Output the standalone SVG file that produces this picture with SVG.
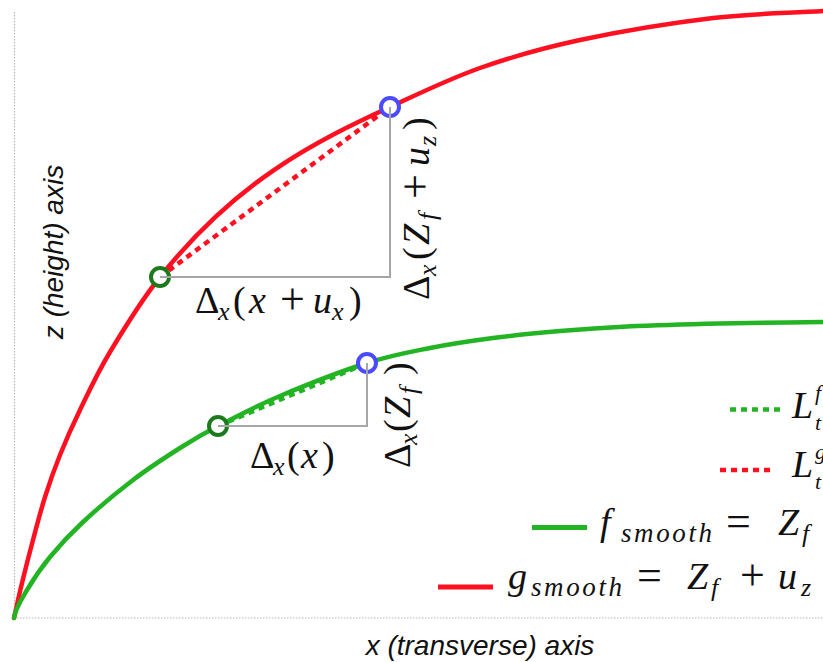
<svg xmlns="http://www.w3.org/2000/svg" width="823" height="662" viewBox="0 0 823 662">
<style>
.axis{stroke:#b8b8b8;stroke-width:1.2;stroke-dasharray:1.5 1.5;fill:none}
.curve{fill:none;stroke-width:4.5;stroke-linecap:round}
.red{stroke:#ff1020}
.green{stroke:#22b422}
.dot{fill:none;stroke-width:4.5;stroke-dasharray:6 5}
.guide{stroke:#a6a6a6;stroke-width:2;fill:none}
.ring{fill:#ffffff;stroke-width:4}
.math{font-family:"Liberation Serif","DejaVu Serif",serif;font-size:38px;fill:#111}
.it{font-style:italic}
.op{font-size:44px}
.sub{font-size:26px}
.ss{font-size:22px}
.sm{font-size:27px;letter-spacing:2.6px}
.axlab{font-family:"Liberation Sans",Arial,sans-serif;font-style:italic;font-size:28px;fill:#111}
</style>
<g id="axes">
<line class="axis" x1="14.5" y1="12" x2="14.5" y2="618"/>
<line class="axis" x1="14" y1="618" x2="823" y2="618"/>
<text class="axlab" transform="translate(63,252) rotate(-90)" text-anchor="middle">z (height) axis</text>
<text class="axlab" x="480" y="655" text-anchor="middle">x (transverse) axis</text>
</g>
<g id="connectors">
<path id="g-smooth" class="curve red" d="M14,618 C16.67,606.33 18.83,596 22,583 C25.17,570 29.17,554.33 33,540 C36.83,525.67 40.5,511.17 45,497 C49.5,482.83 54.17,469.5 60,455 C65.83,440.5 71.67,427.17 80,410 C88.33,392.83 96.67,374.17 110,352 C123.33,329.83 143.3,297.8 160,277 C236.7,181.1 313.3,142.3 390,107 C420,93.2 448.33,79.17 480,68 C511.67,56.83 541.17,48.33 580,40 C618.83,31.67 673,22.83 713,18 C753,13.17 786.33,13.33 823,11"/>
<path id="f-smooth" class="curve green" d="M14,618 C15.5,608 21,600.17 27,590 C33,579.83 40.67,568.33 50,557 C59.33,545.67 69.17,534.83 83,522 C96.83,509.17 116.83,492.33 133,480 C149.17,467.67 165.83,457 180,448 C194.17,439 201.33,434.67 218,426 C234.67,417.33 255.17,406.5 280,396 C304.83,385.5 342,371 367,363 C392,355 409,352.17 430,348 C451,343.83 471.33,340.83 493,338 C514.67,335.17 537.67,332.92 560,331 C582.33,329.08 600.33,327.75 627,326.5 C653.67,325.25 687.33,324.25 720,323.5 C752.67,322.75 788.67,322.5 823,322"/>
<line id="chord-g" class="dot red" x1="160" y1="277" x2="390" y2="107"/>
<line id="chord-f" class="dot green" x1="218" y1="426" x2="367" y2="363"/>
</g>
<g id="point-g-start"><circle class="ring" cx="160" cy="277" r="9" stroke="#1c7a1c"/></g>
<g id="point-g-end"><circle class="ring" cx="390" cy="107" r="9" stroke="#4a4aff"/></g>
<g id="point-f-start"><circle class="ring" cx="218" cy="426" r="9" stroke="#1c7a1c"/></g>
<g id="point-f-end"><circle class="ring" cx="367" cy="363" r="9" stroke="#4a4aff"/></g>
<g id="triangle-g">
<polyline class="guide" points="160,277 390,277 390,107"/>
</g>
<g id="triangle-f">
<polyline class="guide" points="218,426 367,426 367,363"/>
</g>
<g id="label-dx-g">
<text class="math"><tspan x="195" y="313">Δ</tspan><tspan class="it sub" x="218" y="320">x</tspan><tspan x="233" y="313">(</tspan><tspan class="it" x="249" y="313">x</tspan><tspan class="op" x="280" y="314">+</tspan><tspan class="it" x="313" y="313">u</tspan><tspan class="it sub" x="332" y="320">x</tspan><tspan x="349" y="313">)</tspan></text>
</g>
<g id="label-dz-g">
<text class="math" transform="translate(429,300) rotate(-90)"><tspan x="0" y="0">Δ</tspan><tspan class="it sub" x="24" y="7">x</tspan><tspan x="40" y="0">(</tspan><tspan class="it" x="55" y="0">Z</tspan><tspan class="it sub" x="80" y="7">f</tspan><tspan class="op" x="101" y="1">+</tspan><tspan class="it" x="134" y="0">u</tspan><tspan class="it sub" x="154" y="7">z</tspan><tspan x="170" y="0">)</tspan></text>
</g>
<g id="label-dx-f">
<text class="math"><tspan x="250" y="468">Δ</tspan><tspan class="it sub" x="273" y="475">x</tspan><tspan x="287" y="468">(</tspan><tspan class="it" x="301" y="468">x</tspan><tspan x="322" y="468">)</tspan></text>
</g>
<g id="label-dz-f">
<text class="math" transform="translate(410,468) rotate(-90)"><tspan x="0" y="0">Δ</tspan><tspan class="it sub" x="23" y="7">x</tspan><tspan x="36" y="0">(</tspan><tspan class="it" x="50" y="0">Z</tspan><tspan class="it sub" x="74" y="7">f</tspan><tspan x="93" y="0">)</tspan></text>
</g>
<g id="legend">
<line class="dot green" x1="730" y1="409.5" x2="782" y2="409.5"/>
<text class="math"><tspan class="it" x="792" y="418">L</tspan><tspan class="it ss" x="815" y="400">f</tspan><tspan class="it ss" x="815" y="430">t</tspan></text>
<line class="dot red" x1="720" y1="470" x2="772" y2="470"/>
<text class="math"><tspan class="it" x="792" y="477">L</tspan><tspan class="it ss" x="815" y="459">g</tspan><tspan class="it ss" x="815" y="489">t</tspan></text>
<line class="green" stroke-width="5" x1="532" y1="527.5" x2="587" y2="527.5"/>
<text class="math"><tspan class="it" x="600" y="535">f</tspan><tspan class="it sm" x="621" y="542">smooth</tspan><tspan class="op" x="726" y="536">=</tspan><tspan class="it" x="778" y="535">Z</tspan><tspan class="it sub" x="802" y="542">f</tspan></text>
<line class="red" stroke-width="5" x1="438" y1="587" x2="493" y2="587"/>
<text class="math"><tspan class="it" x="508" y="589">g</tspan><tspan class="it sm" x="531" y="596">smooth</tspan><tspan class="op" x="637" y="590">=</tspan><tspan class="it" x="687" y="589">Z</tspan><tspan class="it sub" x="711" y="596">f</tspan><tspan class="op" x="740" y="590">+</tspan><tspan class="it" x="778" y="589">u</tspan><tspan class="it sub" x="801" y="596">z</tspan></text>
</g>
</svg>
